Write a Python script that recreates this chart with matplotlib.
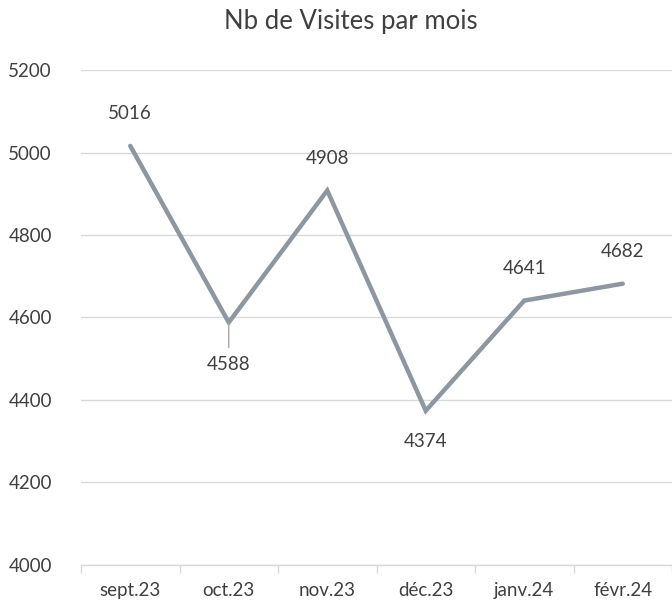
import numpy as np
import matplotlib
matplotlib.use("Agg")
import matplotlib.pyplot as plt

plt.rcParams['font.family'] = ['Lato', 'DejaVu Sans']

# Données
mois = ['sept.23', 'oct.23', 'nov.23', 'déc.23', 'janv.24', 'févr.24']
visites = [5016, 4588, 4908, 4374, 4641, 4682]
# décalage vertical des étiquettes (points)
decalage_label = [23, -30, 23, -22, 23, 23]

texte = '#404040'
grille = '#d9d9d9'
ligne = '#8e979f'

fig = plt.figure(figsize=(6.72, 6.08), dpi=100)
ax = fig.add_axes([81 / 672, 43 / 608, 1 - 81 / 672, (565 - 70) / 608])

x = np.arange(len(mois))
ax.plot(x, visites, color=ligne, linewidth=3.2, solid_capstyle='round',
        solid_joinstyle='miter', zorder=3)

for xi, v, dy in zip(x, visites, decalage_label):
    ax.annotate(str(v), (xi, v), xytext=(0, dy), textcoords='offset points',
                ha='center', va='center', fontsize=13.5, color=texte)

# petite ligne de rappel sous oct.23
ax.annotate('', (1, visites[1]), xytext=(0, -18), textcoords='offset points',
            arrowprops=dict(arrowstyle='-', color='#a6a6a6', lw=1.0,
                            shrinkA=0, shrinkB=0))

ax.set_xlim(-0.5, len(mois) - 0.5)
ax.set_ylim(4000, 5200)
ax.set_yticks(np.arange(4000, 5201, 200))
ax.yaxis.grid(True, color=grille, linewidth=1.0)
ax.set_axisbelow(True)

ax.set_xticks(x)
ax.set_xticklabels(mois)
ax.set_xticks(np.arange(-0.5, len(mois), 1), minor=True)
ax.tick_params(axis='x', which='major', length=0, pad=12, labelsize=13.5,
               labelcolor=texte)
ax.tick_params(axis='x', which='minor', length=6, color=grille, width=1.0)
ax.tick_params(axis='y', length=0, pad=21, labelsize=13.5, labelcolor=texte)

for s in ['top', 'right', 'left']:
    ax.spines[s].set_visible(False)
ax.spines['bottom'].set_color(grille)
ax.spines['bottom'].set_linewidth(1.0)

fig.text(351 / 672, 1 - 22 / 608, 'Nb de Visites par mois', ha='center',
         va='center', fontsize=18.5, color=texte)

fig.savefig('out.png', dpi=100)
